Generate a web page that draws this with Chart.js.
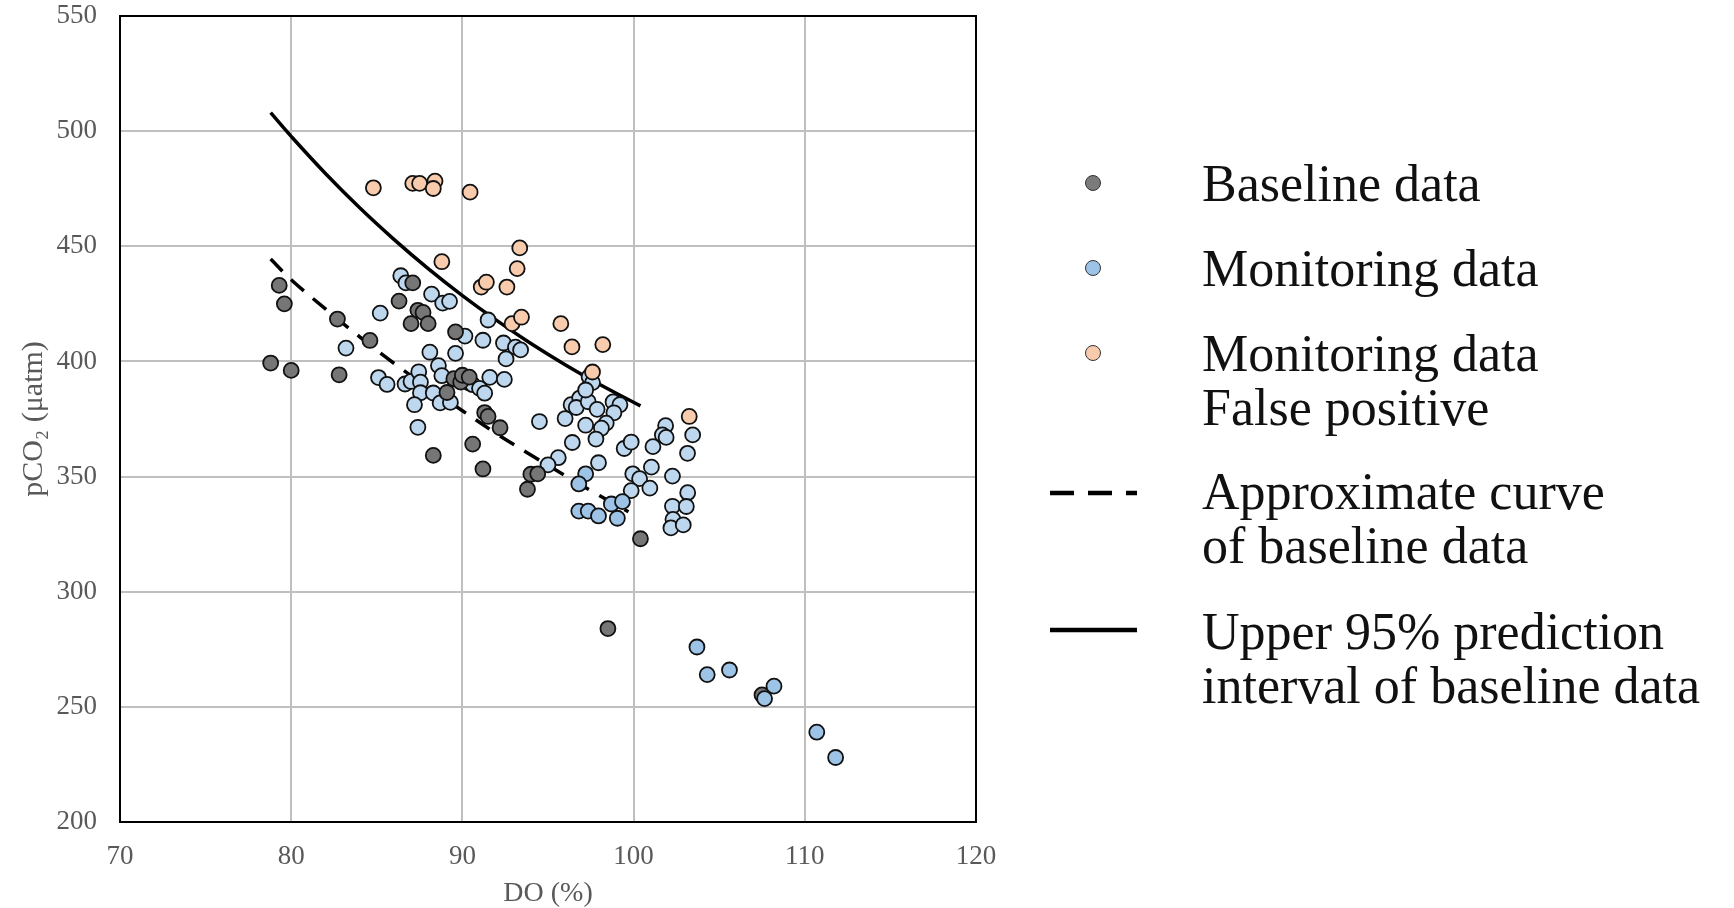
<!DOCTYPE html>
<html>
<head>
<meta charset="utf-8">
<script src="https://cdn.jsdelivr.net/npm/chart.js@4.4.0/dist/chart.umd.min.js"></script>
<style>
  html, body { margin: 0; padding: 0; background: #fff; }
  #wrap { position: relative; width: 1734px; height: 908px; }
  .key { position: absolute; left: 1202px; font: 52px/54px "Liberation Serif", serif; color: #111; white-space: nowrap; }
  .dot { position: absolute; left: 1085px; width: 14px; height: 14px; border-radius: 50%; border: 1px solid #333; }
  .mark { position: absolute; left: 1050px; }
</style>
</head>
<body>
<div id="wrap">
  <canvas id="chart"></canvas>

  <span class="dot" style="top:175px;background:#7b7b7b"></span>
  <div class="key" style="top:157px">Baseline data</div>

  <span class="dot" style="top:260px;background:#9dc3e6"></span>
  <div class="key" style="top:242px">Monitoring data</div>

  <span class="dot" style="top:345px;background:#f8cbad"></span>
  <div class="key" style="top:327px">Monitoring data<br>False positive</div>

  <svg class="mark" style="top:487px" width="87" height="12"><line x1="0" y1="6" x2="87" y2="6" stroke="#000" stroke-width="4.5" stroke-dasharray="24 14"/></svg>
  <div class="key" style="top:465px">Approximate curve<br>of baseline data</div>

  <svg class="mark" style="top:624px" width="87" height="12"><line x1="0" y1="6" x2="87" y2="6" stroke="#000" stroke-width="4.5"/></svg>
  <div class="key" style="top:605px">Upper 95% prediction<br>interval of baseline data</div>
</div>
<script>
  const xTicks = [70, 80, 90, 100, 110, 120];
  const yTicks = [200, 250, 300, 350, 400, 450, 500, 550];

  // Baseline data (grey)
  const baselineDO = [78.8, 79.3, 79.6, 80.0, 82.7, 82.8, 84.6, 86.3, 87.1, 87.4, 87.7, 87.0, 88.0, 89.6, 89.1, 89.5,
    89.9, 90.0, 90.4, 91.3, 91.5, 92.2, 90.6, 91.2, 94.0, 94.4, 93.8, 88.3, 100.4, 98.5, 107.5];
  const baselinePCO2 = [399.3, 433, 425, 396.1, 418.4, 394.2, 409.1, 426.2, 434.1, 422.2, 421.3, 416.4, 416.4, 412.8, 386.5, 392.5,
    391, 394, 393.2, 377.8, 376.1, 371.2, 364.1, 353.3, 351, 351.2, 344.5, 359.2, 323, 284, 255.2];

  // Monitoring data (light blue)
  const monitorDO = [86.4, 86.7, 88.2, 88.85, 89.25, 85.2, 83.2, 88.1, 89.6, 90.15, 91.2, 91.5, 91.6, 88.6, 85.1, 85.6,
    86.65, 87.0, 87.45, 87.55, 87.55, 88.3, 87.2, 88.8, 88.7, 89.3, 90.4, 90.6, 91.0, 91.3, 87.4, 92.4,
    93.1, 93.4, 92.55, 92.45, 94.5, 96.0, 96.35, 96.85, 96.65, 97.35, 97.4, 97.6, 97.2, 97.87, 98.8, 99.2,
    98.85, 98.4, 98.12, 97.2, 96.42, 97.8, 99.45, 99.86, 97.95, 95.6, 95.0, 99.95, 100.35, 101.04, 102.27, 100.95,
    99.86, 103.16, 102.27, 103.08, 102.3, 102.18, 102.9, 101.87, 101.68, 101.9, 103.45, 101.13, 103.15];
  const monitorPCO2 = [437.2, 434.1, 429.2, 425.3, 426.1, 421, 405.8, 404, 403.5, 411, 409.2, 418, 393.1, 398.2, 393, 390,
    390.2, 391.3, 395.5, 391, 386.4, 386.3, 381.2, 393.8, 382, 382.2, 390.6, 389.9, 388.3, 386.2, 371.4, 408,
    406.2, 405, 401.1, 392.2, 373.9, 375.2, 381.2, 384.1, 380, 382.5, 393.3, 390.8, 387.6, 379.2, 382.4, 381.2,
    377.7, 373.2, 371, 372.3, 364.8, 366.3, 362.2, 365, 356, 358.2, 355.1, 351.2, 349.1, 354.1, 350.2, 345,
    343.9, 343, 337.1, 337, 331.4, 327.7, 329, 372.1, 368.1, 367, 368.1, 363, 360.1];

  // Monitoring data, later points (slightly darker blue)
  const monitorLateDO = [97.2, 96.8, 96.8, 97.35, 97.95, 99.05, 98.7, 99.35, 103.7, 104.3, 105.6, 107.65, 108.2, 110.7, 111.8];
  const monitorLatePCO2 = [351.2, 346.8, 335, 335, 332.9, 331.9, 338.1, 339.1, 276, 264, 266, 253.6, 259, 239, 228];

  // Monitoring data, false positive (orange)
  const falseDO = [84.8, 87.1, 87.5, 88.4, 88.3, 90.45, 88.8, 91.1, 91.4, 92.6, 93.35, 93.2, 92.9, 93.45, 95.75, 96.4, 98.2, 97.6, 103.25];
  const falsePCO2 = [475.4, 477.3, 477.3, 478.3, 475.1, 473.5, 443.3, 432.3, 434.4, 432.3, 449.3, 440.3, 416.4, 419.2, 416.4, 406.3, 407.3, 395.4, 376.1];

  // Curves
  const approxDO = [78.8, 80, 82, 84, 86, 88, 90, 92, 94, 96, 98, 99.7];
  const approxPCO2 = [444.5, 435.5, 422.8, 410.7, 399.2, 388.7, 378.6, 368.6, 359.4, 350.4, 341.8, 334.7];
  const upperDO = [78.8, 80, 82, 84, 86, 88, 90, 92, 94, 96, 98, 100.4];
  const upperPCO2 = [508, 497.7, 481.6, 466.7, 453, 440.3, 428.6, 417.8, 407.8, 398.6, 390.1, 380.7];

  const toPoints = (xs, ys) => xs.map((x, i) => ({ x: x, y: ys[i] }));

  const serif = 'Liberation Serif';
  const grey = '#595959';

  const dots = (label, xs, ys, fill, order) => ({
    label: label,
    data: toPoints(xs, ys),
    backgroundColor: fill,
    borderColor: '#111',
    borderWidth: 1.8,
    pointRadius: 7.5,
    order: order
  });

  const curve = (label, xs, ys, dash) => ({
    type: 'line',
    label: label,
    data: toPoints(xs, ys),
    borderColor: '#000',
    borderWidth: 3.5,
    borderDash: dash,
    pointRadius: 0,
    fill: false,
    tension: 0.4,
    order: 6
  });

  // black frame round the plot area
  const frame = {
    id: 'frame',
    beforeDatasetsDraw(chart) {
      const { ctx, chartArea: a } = chart;
      ctx.save();
      ctx.strokeStyle = '#000';
      ctx.lineWidth = 2;
      ctx.strokeRect(a.left, a.top, a.right - a.left, a.bottom - a.top);
      ctx.restore();
    }
  };

  const chart = new Chart(document.getElementById('chart'), {
    type: 'scatter',
    data: {
      datasets: [
        curve('Upper 95% prediction interval of baseline data', upperDO, upperPCO2, []),
        curve('Approximate curve of baseline data', approxDO, approxPCO2, [17, 12]),
        dots('Monitoring data', monitorDO, monitorPCO2, '#bdd7ee', 5),
        dots('Baseline data', baselineDO, baselinePCO2, '#767676', 4),
        dots('Monitoring data', monitorLateDO, monitorLatePCO2, '#9dc3e6', 3),
        dots('Monitoring data False positive', falseDO, falsePCO2, '#f8cbad', 2)
      ]
    },
    options: {
      responsive: true,
      maintainAspectRatio: false,
      animation: false,
      events: [],
      layout: { padding: { top: 16, right: 758, left: 0, bottom: 0 } },
      plugins: {
        legend: { display: false },
        tooltip: { enabled: false }
      },
      scales: {
        x: {
          type: 'linear',
          min: 70,
          max: 120,
          afterBuildTicks: s => { s.ticks = xTicks.map(v => ({ value: v })); },
          afterFit: s => { s.height = 86; s.paddingLeft = 0; s.paddingRight = 0; },
          grid: { color: '#bfbfbf', lineWidth: 2, drawTicks: false },
          border: { display: false },
          ticks: { padding: 19, color: grey, font: { family: serif, size: 27 } },
          title: { display: true, text: 'DO (%)', color: grey, padding: 0, font: { family: serif, size: 28, lineHeight: 1 } }
        },
        y: {
          type: 'linear',
          min: 200,
          max: 550,
          afterBuildTicks: s => { s.ticks = yTicks.map(v => ({ value: v })); },
          afterFit: s => { s.width = 120; s.paddingTop = 0; s.paddingBottom = 0; },
          grid: { color: '#bfbfbf', lineWidth: 2, drawTicks: false },
          border: { display: false },
          ticks: { padding: 23, color: grey, font: { family: serif, size: 27 } },
          title: { display: true, text: 'pCO₂ (μatm)', color: grey, padding: { top: 19, bottom: 0 }, font: { family: serif, size: 30, lineHeight: 1 } }
        }
      }
    },
    plugins: [frame]
  });
</script>
</body>
</html>
